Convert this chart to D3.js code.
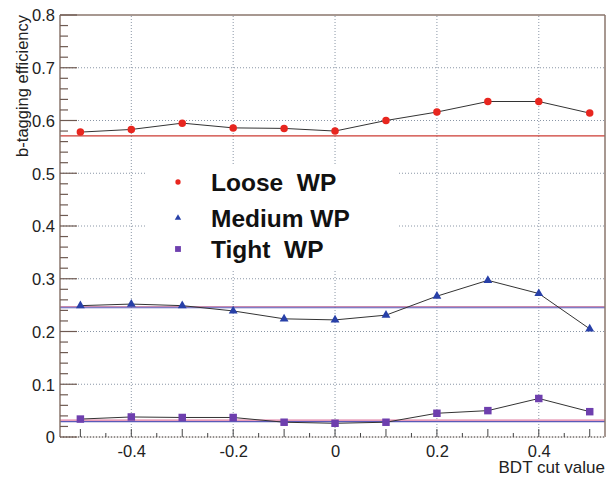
<!DOCTYPE html>
<html><head><meta charset="utf-8">
<script src="https://cdn.jsdelivr.net/npm/d3@7"></script>
<style>body{margin:0;background:#fff}svg{display:block}text{font-family:Arial,"Liberation Sans",sans-serif}</style>
</head><body><svg id="c" width="607" height="479"></svg>
<script>
const cuts = [-0.5,-0.4,-0.3,-0.2,-0.1,0,0.1,0.2,0.3,0.4,0.5];
const loose = [0.578,0.583,0.595,0.586,0.585,0.580,0.600,0.616,0.636,0.636,0.614];
const medium = [0.249,0.252,0.249,0.239,0.224,0.222,0.231,0.267,0.297,0.272,0.205];
const tight = [0.034,0.038,0.037,0.037,0.028,0.026,0.028,0.045,0.050,0.073,0.048];
const refLines = [{v:0.571,c:"#cc3b33"},{v:0.247,c:"#c98aae"},{v:0.245,c:"#5a5ab8"},{v:0.032,c:"#e07aa0"},{v:0.029,c:"#5a5ab8"}];
const legendNames = ["Loose  WP","Medium WP","Tight  WP"];
const xLabelTicks = [-0.4,-0.2,0,0.2,0.4];
const yLabelTicks = [0,0.1,0.2,0.3,0.4,0.5,0.6,0.7,0.8];

const svg = d3.select("#c");
const x = d3.scaleLinear().domain([-0.54,0.53]).range([60,605]);
const y = d3.scaleLinear().domain([0,0.8]).range([437,15]);
const axisCol = "#8a766c";

// grid
const g = svg.append("g");
g.selectAll(".gx").data(xLabelTicks).join("line")
  .attr("x1",d=>x(d)).attr("x2",d=>x(d)).attr("y1",y(0)).attr("y2",y(0.8))
  .attr("stroke","#8a96a6").attr("stroke-width",1).attr("stroke-dasharray","1,2");
g.selectAll(".gy").data(yLabelTicks.filter(d=>d>0&&d<0.8)).join("line")
  .attr("x1",x.range()[0]).attr("x2",x.range()[1]).attr("y1",d=>y(d)).attr("y2",d=>y(d))
  .attr("stroke","#8a96a6").attr("stroke-width",1).attr("stroke-dasharray","1,2");

// reference lines
svg.selectAll(".ref").data(refLines).join("line")
  .attr("x1",x.range()[0]).attr("x2",x.range()[1]).attr("y1",d=>y(d.v)).attr("y2",d=>y(d.v))
  .attr("stroke",d=>d.c).attr("stroke-width",1.2);

// legend box (covers grid)
svg.append("rect").attr("x",145).attr("y",165).attr("width",252).attr("height",104).attr("fill","#fff");

// series
const series = [
  {vals:loose,col:"#e8261f",sym:d3.symbolCircle,size:44,lsize:22},
  {vals:medium,col:"#2840a8",sym:d3.symbolTriangle,size:34,lsize:18},
  {vals:tight,col:"#6e3fae",sym:d3.symbolSquare,size:56,lsize:34}
];
const line = d3.line().x((d,i)=>x(cuts[i])).y(d=>y(d));
series.forEach(s=>{
  svg.append("path").attr("d",line(s.vals)).attr("fill","none").attr("stroke","#333").attr("stroke-width",1);
  svg.selectAll(null).data(s.vals).join("path")
    .attr("transform",(d,i)=>`translate(${x(cuts[i])},${y(d)})`)
    .attr("d",d3.symbol().type(s.sym).size(s.size)).attr("fill",s.col);
});

// frame
const fr = svg.append("g");
fr.append("line").attr("x1",60).attr("x2",60).attr("y1",y(0)).attr("y2",y(0.8)).attr("stroke",axisCol).attr("stroke-width",1.5);
fr.append("line").attr("x1",60).attr("x2",605).attr("y1",y(0.8)).attr("y2",y(0.8)).attr("stroke",axisCol).attr("stroke-width",1.5);
fr.append("line").attr("x1",605).attr("x2",605).attr("y1",y(0)).attr("y2",y(0.8)).attr("stroke",axisCol).attr("stroke-width",1.5);
fr.append("line").attr("x1",60).attr("x2",605).attr("y1",y(0)).attr("y2",y(0)).attr("stroke","#c8c0bc").attr("stroke-width",1);
fr.append("line").attr("x1",60).attr("x2",605).attr("y1",y(0)).attr("y2",y(0)).attr("stroke","#444").attr("stroke-width",1.2).attr("stroke-dasharray","1,2");

// y axis ticks
const yMinor = d3.range(0,0.8001,0.02);
fr.selectAll(".ym").data(yMinor).join("line")
  .attr("x1",60).attr("x2",d=>Math.abs(d*10-Math.round(d*10))<1e-6?77:68)
  .attr("y1",d=>y(d)).attr("y2",d=>y(d)).attr("stroke","#6e5a52").attr("stroke-width",1.2);
const yAxis = d3.axisLeft(y).tickValues(yLabelTicks).tickSize(0).tickPadding(5).tickFormat(d=>d===0?"0":d3.format(".1f")(d));
const ya = svg.append("g").attr("transform","translate(60,0)").call(yAxis);
ya.select(".domain").remove();
ya.selectAll("text").attr("font-size",16.5).attr("fill","#222").attr("dy","0.36em");

// x axis ticks
const xMinor = d3.range(-0.5,0.5001,0.05);
fr.selectAll(".xm").data(xMinor).join("line")
  .attr("x1",d=>x(d)).attr("x2",d=>x(d)).attr("y1",y(0))
  .attr("y2",d=>Math.abs(d*10-Math.round(d*10))<1e-6?y(0)-8:y(0)-4)
  .attr("stroke","#444").attr("stroke-width",1);
const xAxis = d3.axisBottom(x).tickValues(xLabelTicks).tickSize(0).tickPadding(8).tickFormat(d=>d===0?"0":d3.format(".1f")(d).replace("−","-"));
const xa = svg.append("g").attr("transform",`translate(0,${y(0)})`).call(xAxis);
xa.select(".domain").remove();
xa.selectAll("text").attr("font-size",16.5).attr("fill","#222");

// titles
svg.append("text").attr("x",605).attr("y",473).attr("text-anchor","end").attr("font-size",17).attr("fill","#222").text("BDT cut value");
svg.append("text").attr("transform","translate(28,15) rotate(-90)").attr("text-anchor","end").attr("font-size",16.5).attr("fill","#222").text("b-tagging efficiency");

// legend
const lg = svg.append("g");
const lgY = [182,218,249];
series.forEach((s,i)=>{
  lg.append("path").attr("transform",`translate(178,${lgY[i]})`).attr("d",d3.symbol().type(s.sym).size(s.lsize)).attr("fill",s.col);
  lg.append("text").attr("x",211).attr("y",lgY[i]+8.5).attr("font-size",24.5).attr("font-weight","bold").attr("fill","#111").attr("xml:space","preserve").style("white-space","pre").text(legendNames[i]);
});
</script></body></html>
